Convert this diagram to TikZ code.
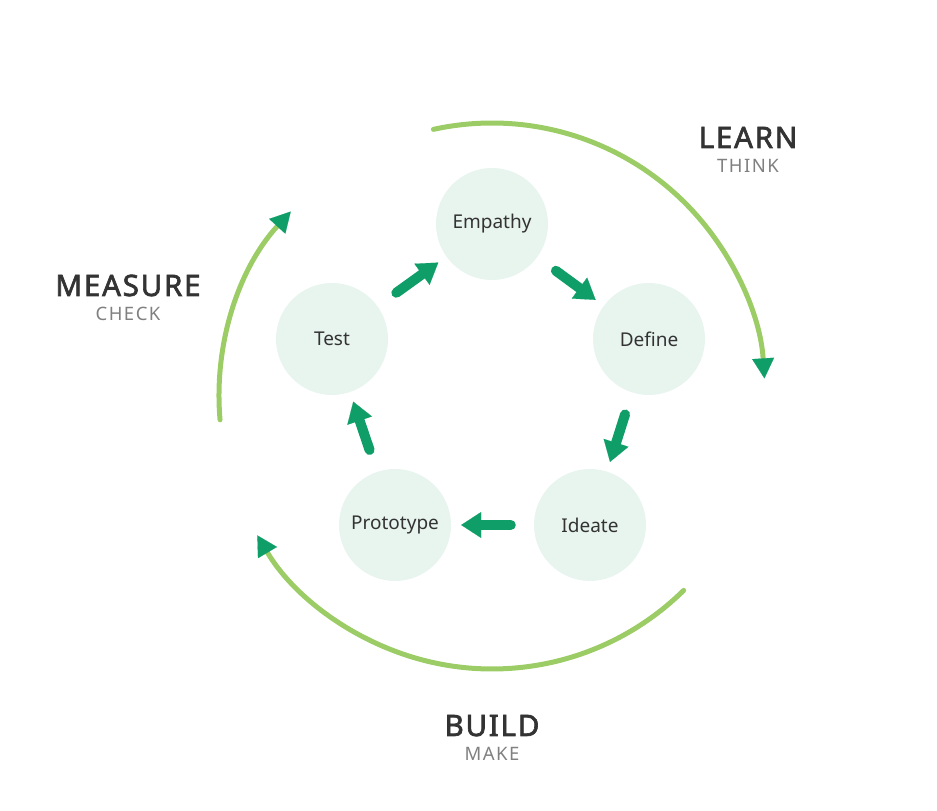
\documentclass[tikz,border=0pt]{standalone}
\usepackage{fontspec}
\setmainfont{Noto Sans}
\usepackage{xcolor}
\definecolor{dtgreen}{RGB}{15,157,104}
\definecolor{dtlime}{RGB}{156,204,101}
\definecolor{dtmint}{RGB}{232,245,239}
\definecolor{dtdark}{RGB}{51,51,51}
\definecolor{dtgray}{RGB}{128,128,128}
\usetikzlibrary{arrows.meta,positioning}

\begin{document}
\begin{tikzpicture}[x=1pt,y=1pt,
  phase/.style={circle,fill=dtmint,minimum size=112pt,inner sep=0pt,
    font=\fontsize{19}{22}\selectfont,text=dtdark},
  flow/.style={line width=10pt,dtgreen,line cap=round,shorten <=23pt,shorten >=10pt,
    -{Triangle[length=20pt,width=26pt,line width=0.1pt]}},
  cyclearc/.style={line width=5pt,dtlime,line cap=round,
    -{Triangle[length=20pt,width=22pt,line width=0.1pt,color=dtgreen]}},
  mode/.style={anchor=base,text=dtdark,
    font=\fontsize{29.5}{32}\selectfont\addfontfeatures{LetterSpace=6,FakeBold=2.2}},
  verb/.style={anchor=base,text=dtgray,
    font=\fontsize{18.5}{22}\selectfont\addfontfeatures{LetterSpace=8}}]
  \useasboundingbox (0,0) rectangle (937,811);

  %% The five phases
  \node[phase] (empathy) at (492,587) {Empathy};
  \node[phase] (define) at (649,472) {Define};
  \node[phase] (ideate) at (590,286) {Ideate};
  \node[phase] (prototype) at (395,286) {Prototype};
  \node[phase] (test) at (332,472) {Test};

  %% Inner cycle
  \draw[flow] (empathy) -- (define);
  \draw[flow] (define) -- (ideate);
  \draw[flow] (ideate) -- (prototype);
  \draw[flow] (prototype) -- (test);
  \draw[flow] (test) -- (empathy);

  %% Outer arcs
  \coordinate (hub) at (492,415);
  \draw[cyclearc] ([shift={(102.4:273pt)}]hub) arc[start angle=102.4,end angle=3.7,radius=273pt];
  \draw[cyclearc] ([shift={(-45.4:273pt)}]hub) arc[start angle=-45.4,end angle=-149.3,radius=273pt];
  \draw[cyclearc] ([shift={(185:273pt)}]hub) arc[start angle=185,end angle=137.5,radius=273pt];

  %% Arc labels
  \node[mode] (learn) at (748,663) {LEARN};
  \node[verb] (think) at (748,638) {THINK};
  \node[mode] (measure) at (128,515) {MEASURE};
  \node[verb] (check) at (128,490) {CHECK};
  \node[mode] (build) at (492,75) {BUILD};
  \node[verb] (make) at (492,50) {MAKE};
\end{tikzpicture}
\end{document}
